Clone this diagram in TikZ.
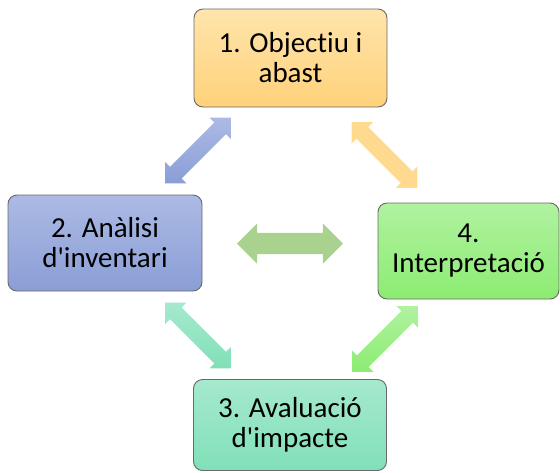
\documentclass[tikz,border=0pt]{standalone}
\usepackage{fontspec}
\setmainfont{Carlito}[Ligatures={NoCommon}]
\usetikzlibrary{shapes.arrows}
\definecolor{orangetop}{RGB}{255,228,172}
\definecolor{orangebot}{RGB}{255,210,122}
\definecolor{bluetop}{RGB}{172,186,228}
\definecolor{bluebot}{RGB}{138,158,214}
\definecolor{tealtop}{RGB}{166,233,206}
\definecolor{tealbot}{RGB}{128,224,184}
\definecolor{greentop}{RGB}{176,242,160}
\definecolor{greenbot}{RGB}{140,236,114}
\definecolor{midgreen}{RGB}{168,210,142}
\definecolor{boxline}{RGB}{105,105,105}

\begin{document}
\begin{tikzpicture}[x=1pt,y=1pt,
  stage/.style={draw=boxline, line width=0.9pt, rounded corners=9pt,
    align=center, inner sep=0pt, font=\fontsize{29}{30}\selectfont},
  dblarrow/.style={double arrow, double arrow head extend=7pt,
    inner xsep=0pt, inner ysep=8pt, minimum height=93pt}]

  \useasboundingbox (0,0) rectangle (560,-472);

  % the four stages
  \node[stage, minimum width=193pt, minimum height=98pt,
        top color=orangetop, bottom color=orangebot] (objectiu) at (290.5,-58) {1. Objectiu i\\abast};
  \node[stage, minimum width=194pt, minimum height=96pt,
        top color=bluetop, bottom color=bluebot] (inventari) at (105,-243) {2. Anàlisi\\d\textquotesingle inventari};
  \node[stage, minimum width=181pt, minimum height=96pt,
        top color=greentop, bottom color=greenbot] (interpretacio) at (468.5,-251) {4.\\Interpretació};
  \node[stage, minimum width=193pt, minimum height=91pt,
        top color=tealtop, bottom color=tealbot] (impacte) at (290,-425) {3. Avaluació\\d\textquotesingle impacte};

  % arrows between the stages
  \node[dblarrow, rotate=45, top color=bluetop, bottom color=bluebot] (arrowblue) at (198,-150.5) {};
  \node[dblarrow, rotate=-45, fill=orangebot!85!white] (arroworange) at (384.5,-155) {};
  \node[dblarrow, rotate=-45, top color=tealtop, bottom color=tealbot] (arrowteal) at (198,-335.5) {};
  \node[dblarrow, rotate=45, top color=greentop, bottom color=greenbot] (arrowgreen) at (385,-339) {};
  \node[double arrow, double arrow head extend=9.5pt, inner xsep=0pt, inner ysep=10.5pt,
        minimum height=106pt, fill=midgreen] (arrowmid) at (290,-243.5) {};
\end{tikzpicture}
\end{document}
